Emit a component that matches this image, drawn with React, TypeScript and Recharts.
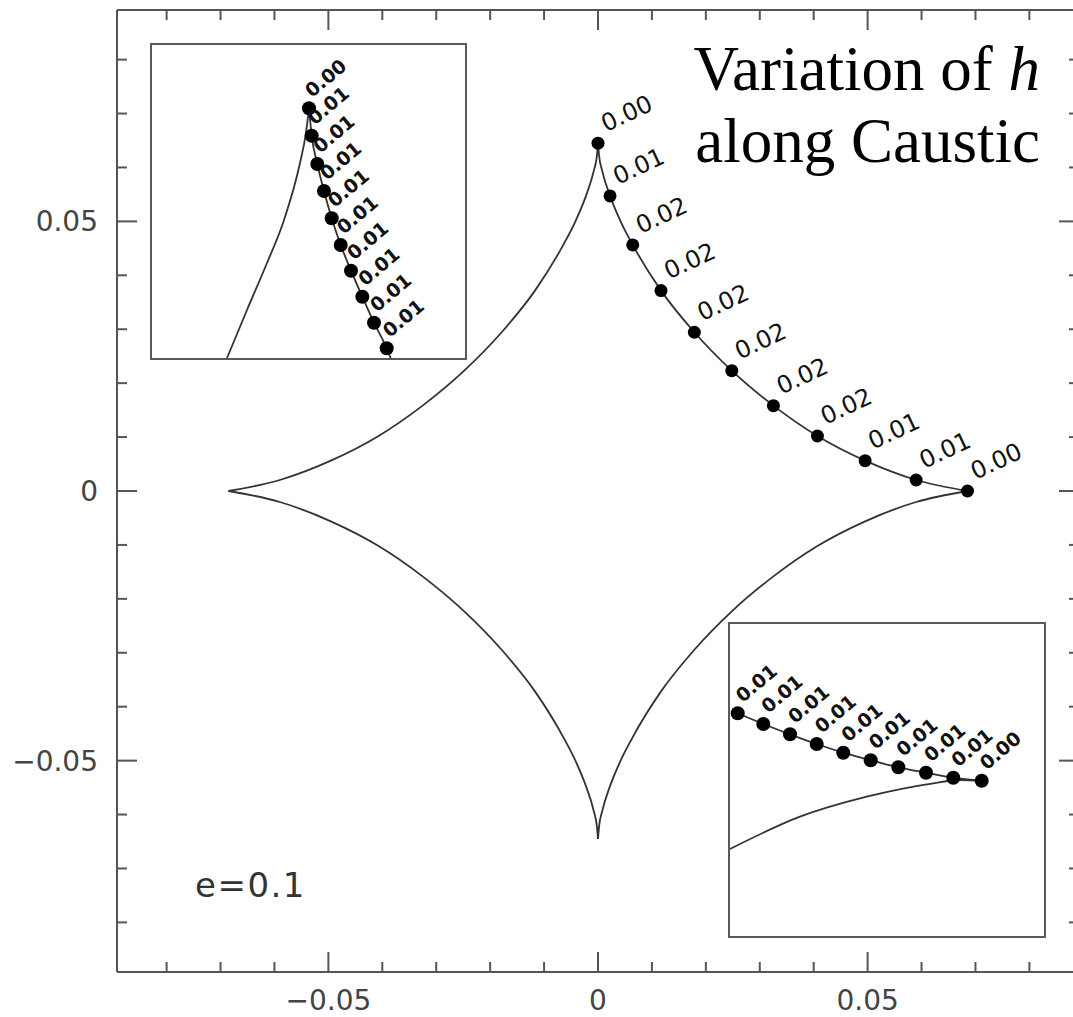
import React from 'react';
import { ScatterChart, Scatter, XAxis, YAxis } from 'recharts';

// ---------- main chart data ----------
// dots on the upper-right branch of the caustic, from the top cusp to the right cusp
const dotX = [0.0, 0.00223, 0.00644, 0.01169, 0.01787, 0.02481, 0.03253, 0.04069, 0.04954, 0.059, 0.06852];
const dotY = [0.0645, 0.05473, 0.04564, 0.03716, 0.02944, 0.02232, 0.01583, 0.0102, 0.00562, 0.00204, 0.0];
const hLabels = ['0.00', '0.01', '0.02', '0.02', '0.02', '0.02', '0.02', '0.02', '0.01', '0.01', '0.00'];

// the caustic curve itself (quarter branch; the other three are its mirror images)
const curveX = [0.0, 0.0002, 0.0008, 0.00223, 0.0041, 0.00644, 0.01169, 0.01787, 0.02481, 0.03253, 0.04069, 0.04954, 0.059, 0.06852];
const curveY = [0.0645, 0.0622, 0.0593, 0.05473, 0.0502, 0.04564, 0.03716, 0.02944, 0.02232, 0.01583, 0.0102, 0.00562, 0.00204, 0.0];

const axisTicks = [-0.08, -0.07, -0.06, -0.05, -0.04, -0.03, -0.02, -0.01, 0, 0.01, 0.02, 0.03, 0.04, 0.05, 0.06, 0.07, 0.08];
const majorTickValues = [-0.05, 0, 0.05];
const majorTickLabels = ['\u22120.05', '0', '0.05'];
const DOMAIN = 0.0892;

// ---------- inset (top-left): zoom on the top cusp, relative units 0..100 ----------
const insetADotU = [50.16, 51.02, 52.81, 54.95, 57.41, 60.29, 63.58, 67.19, 70.93, 74.98];
const insetADotV = [79.78, 71.02, 61.98, 53.35, 44.63, 36.1, 27.89, 19.58, 11.28, 3.1];
const insetALabels = ['0.00', '0.01', '0.01', '0.01', '0.01', '0.01', '0.01', '0.01', '0.01', '0.01'];
const insetALineEndU = [76.26];
const insetALineEndV = [0];
const insetAOtherU = [23.96, 30.35, 36.74, 41.85, 47.28, 49.2, 50.16];
const insetAOtherV = [0, 15.34, 30.35, 43.13, 62.3, 72.0, 79.78];

// ---------- inset (bottom-right): zoom on the right cusp, relative units 0..100 ----------
const insetBDotU = [2.45, 10.61, 19.11, 27.61, 36.08, 44.81, 53.6, 62.42, 71.11, 80.16];
const insetBDotV = [71.38, 67.95, 64.65, 61.54, 58.75, 56.31, 54.07, 52.34, 50.74, 49.78];
const insetBLabels = ['0.01', '0.01', '0.01', '0.01', '0.01', '0.01', '0.01', '0.01', '0.01', '0.00'];
const insetBOtherU = [0, 22.29, 43.54, 64.75, 73.25, 80.16];
const insetBOtherV = [27.88, 38.24, 44.65, 48.94, 50.0, 49.78];

// ---------- built tables ----------
const dots = dotX.map((x, i) => ({ x, y: dotY[i], label: hLabels[i] }));
const upperRight = curveX.map((x, i) => ({ x, y: curveY[i] }));
const upperLeft = curveX.map((x, i) => ({ x: -x, y: curveY[i] })).sort((a, b) => a.x - b.x);
const lowerRight = curveX.map((x, i) => ({ x, y: -curveY[i] }));
const lowerLeft = curveX.map((x, i) => ({ x: -x, y: -curveY[i] })).sort((a, b) => a.x - b.x);

const insetADots = insetADotU.map((x, i) => ({ x, y: insetADotV[i], label: insetALabels[i] }));
const insetADotLine = [...insetADots.map(d => ({ x: d.x, y: d.y })), ...insetALineEndU.map((x, i) => ({ x, y: insetALineEndV[i] }))];
const insetAOther = insetAOtherU.map((x, i) => ({ x, y: insetAOtherV[i] }));

const insetBDots = insetBDotU.map((x, i) => ({ x, y: insetBDotV[i], label: insetBLabels[i] }));
const insetBOther = insetBOtherU.map((x, i) => ({ x, y: insetBOtherV[i] }));

const AX = '#555';
const CURVE = '#333';
const SANS = '"DejaVu Sans", sans-serif';

const majorIndex = (v: number) => majorTickValues.findIndex(m => Math.abs(m - v) < 1e-9);

const bottomTick = (p: any) => {
  const { x, y, payload } = p;
  const idx = majorIndex(payload.value);
  const len = idx >= 0 ? 20 : 10;
  return (
    <g>
      <line x1={x} y1={y} x2={x} y2={y - len} stroke={AX} strokeWidth={2} />
      {idx >= 0 && (
        <text x={x} y={y + 38} textAnchor="middle" fontFamily={SANS} fontSize={28} fill="#444">
          {majorTickLabels[idx]}
        </text>
      )}
    </g>
  );
};
const topTick = (p: any) => {
  const { x, y, payload } = p;
  const len = majorIndex(payload.value) >= 0 ? 20 : 10;
  return <line x1={x} y1={y} x2={x} y2={y + len} stroke={AX} strokeWidth={2} />;
};
const leftTick = (p: any) => {
  const { x, y, payload } = p;
  const idx = majorIndex(payload.value);
  const len = idx >= 0 ? 20 : 10;
  return (
    <g>
      <line x1={x} y1={y} x2={x + len} y2={y} stroke={AX} strokeWidth={2} />
      {idx >= 0 && (
        <text x={x - 19} y={y} dy="0.36em" textAnchor="end" fontFamily={SANS} fontSize={28} fill="#444">
          {majorTickLabels[idx]}
        </text>
      )}
    </g>
  );
};
const rightTick = (p: any) => {
  const { x, y, payload } = p;
  const len = majorIndex(payload.value) >= 0 ? 20 : 10;
  return <line x1={x} y1={y} x2={x - len} y2={y} stroke={AX} strokeWidth={2} />;
};

const noShape = () => <g />;

const makeDot = (r: number, dx: number, dy: number, angle: number, fontSize: number, weight: string | number) => (p: any) => {
  const { cx, cy, payload } = p;
  const tx = cx + dx;
  const ty = cy + dy;
  return (
    <g>
      <circle cx={cx} cy={cy} r={r} fill="#000" />
      <text
        x={tx}
        y={ty}
        transform={`rotate(${angle}, ${tx}, ${ty})`}
        fontFamily={SANS}
        fontSize={fontSize}
        fontWeight={weight}
        fill="#111"
      >
        {payload.label}
      </text>
    </g>
  );
};

const mainDot = makeDot(6.5, 8, -11, -25, 24, 'normal');
const insetADot = makeDot(7, 3, -10, -40, 19, 'bold');
const insetBDot = makeDot(7, 5, -10, -40, 19, 'bold');

const curveLine = { stroke: CURVE, strokeWidth: 1.8 };

function Inset(props: {
  left: number; top: number; w: number; h: number;
  curves: { x: number; y: number }[][];
  dots: { x: number; y: number; label: string }[];
  dotShape: any;
}) {
  const { left, top, w, h, curves, dots, dotShape } = props;
  return (
    <div
      style={{
        position: 'absolute', left, top, width: w + 4, height: h + 4,
        border: '2px solid #5a5a5a', background: '#fff', boxSizing: 'border-box',
      }}
    >
      <ScatterChart width={w} height={h} margin={{ top: 0, right: 0, bottom: 0, left: 0 }}>
        <XAxis type="number" dataKey="x" domain={[0, 100]} hide height={0} />
        <YAxis type="number" dataKey="y" domain={[0, 100]} hide width={0} />
        {curves.map((c, i) => (
          <Scatter key={i} data={c} line={curveLine} lineJointType="monotoneX" shape={noShape} isAnimationActive={false} />
        ))}
        <Scatter data={dots} shape={dotShape} isAnimationActive={false} />
      </ScatterChart>
    </div>
  );
}

export default function App() {
  return (
    <div style={{ position: 'fixed', left: 0, top: 0, width: 1073, height: 1017, overflow: 'hidden', background: '#fff' }}>
      <div style={{ position: 'absolute', left: 0, top: 0 }}>
        <ScatterChart width={1100} height={1017} margin={{ top: 9, right: 20, bottom: 0, left: 0 }}>
          <XAxis xAxisId="b" orientation="bottom" type="number" dataKey="x" domain={[-DOMAIN, DOMAIN]} ticks={axisTicks}
            interval={0} height={45} tickSize={0} tickMargin={0} tickLine={false}
            axisLine={{ stroke: AX, strokeWidth: 2 }} tick={bottomTick} allowDataOverflow />
          <XAxis xAxisId="t" orientation="top" type="number" dataKey="x" domain={[-DOMAIN, DOMAIN]} ticks={axisTicks}
            interval={0} height={1} tickSize={0} tickMargin={0} tickLine={false}
            axisLine={{ stroke: AX, strokeWidth: 2 }} tick={topTick} allowDataOverflow />
          <YAxis yAxisId="l" orientation="left" type="number" dataKey="y" domain={[-DOMAIN, DOMAIN]} ticks={axisTicks}
            interval={0} width={117} tickSize={0} tickMargin={0} tickLine={false}
            axisLine={{ stroke: AX, strokeWidth: 2 }} tick={leftTick} allowDataOverflow />
          <YAxis yAxisId="r" orientation="right" type="number" dataKey="y" domain={[-DOMAIN, DOMAIN]} ticks={axisTicks}
            interval={0} width={1} tickSize={0} tickMargin={0} tickLine={false}
            axisLine={{ stroke: AX, strokeWidth: 2 }} tick={rightTick} allowDataOverflow />
          <Scatter xAxisId="t" yAxisId="r" data={upperRight} shape={noShape} isAnimationActive={false} />
          <Scatter xAxisId="b" yAxisId="l" data={upperLeft} line={curveLine} lineJointType="monotoneX" shape={noShape} isAnimationActive={false} />
          <Scatter xAxisId="b" yAxisId="l" data={lowerLeft} line={curveLine} lineJointType="monotoneX" shape={noShape} isAnimationActive={false} />
          <Scatter xAxisId="b" yAxisId="l" data={lowerRight} line={curveLine} lineJointType="monotoneX" shape={noShape} isAnimationActive={false} />
          <Scatter xAxisId="b" yAxisId="l" data={upperRight} line={curveLine} lineJointType="monotoneX" shape={noShape} isAnimationActive={false} />
          <Scatter xAxisId="b" yAxisId="l" data={dots} shape={mainDot} isAnimationActive={false} />
        </ScatterChart>
      </div>

      <Inset left={150} top={43} w={313} h={313} curves={[insetAOther, insetADotLine]} dots={insetADots} dotShape={insetADot} />
      <Inset left={728} top={622} w={314} h={312} curves={[insetBOther, insetBDots]} dots={insetBDots} dotShape={insetBDot} />

      <svg width={1073} height={1017} style={{ position: 'absolute', left: 0, top: 0, pointerEvents: 'none' }}>
        <text x={1040} y={90} textAnchor="end" fontFamily='"Liberation Serif", "Times New Roman", serif' fontSize={63} fill="#000">
          Variation of <tspan fontStyle="italic">h</tspan>
        </text>
        <text x={1040} y={162} textAnchor="end" fontFamily='"Liberation Serif", "Times New Roman", serif' fontSize={63} fill="#000">
          along Caustic
        </text>
        <text x={195} y={897} fontFamily={SANS} fontSize={34} letterSpacing={1.5} fill="#333">
          e=0.1
        </text>
      </svg>
    </div>
  );
}
